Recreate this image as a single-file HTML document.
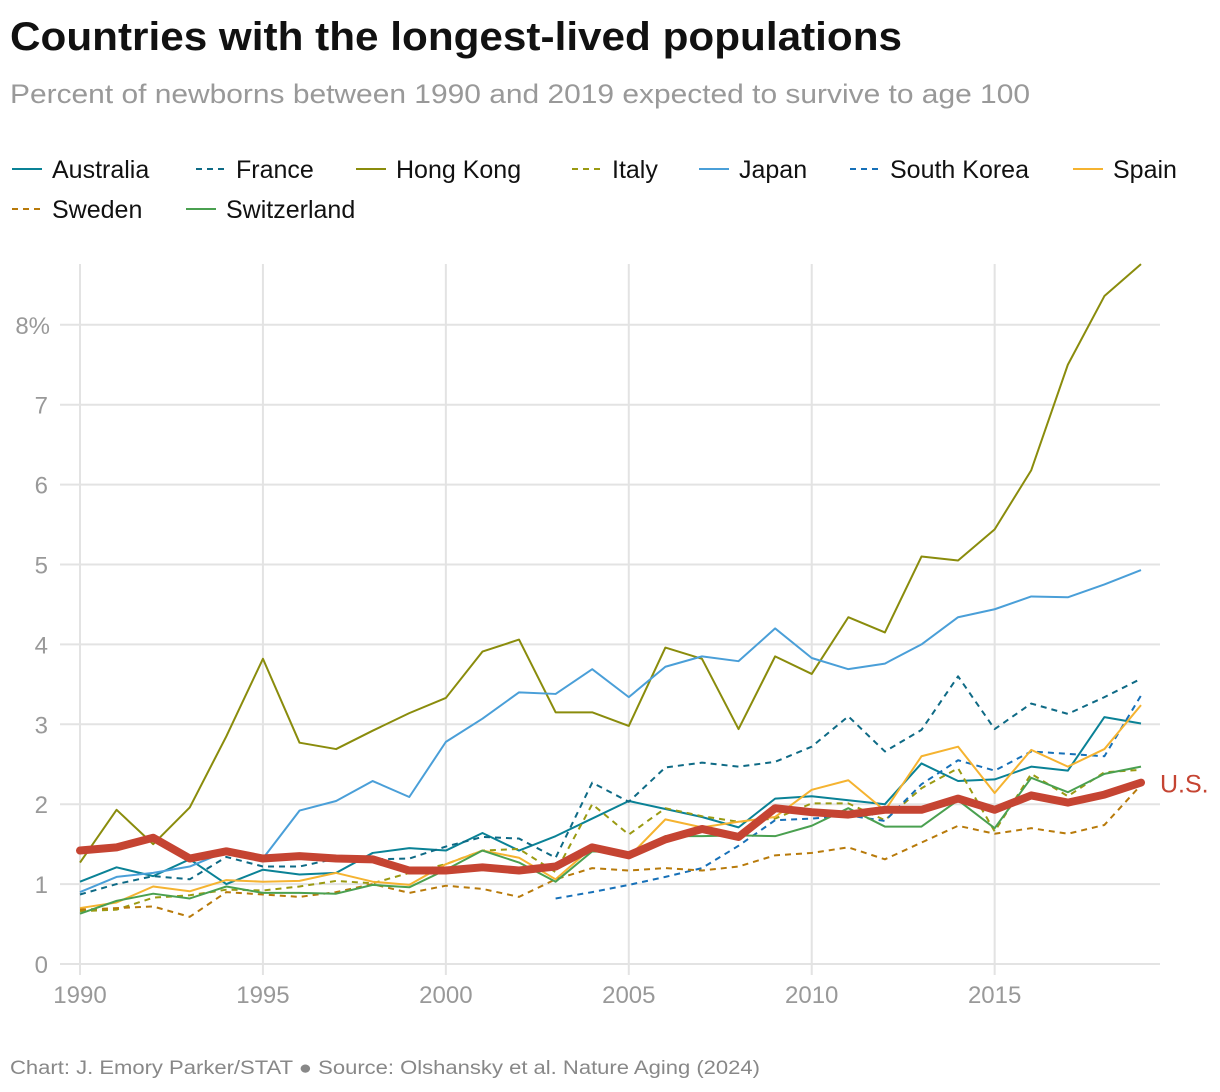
<!DOCTYPE html>
<html><head><meta charset="utf-8"><style>
body{margin:0;background:#fff;font-family:"Liberation Sans",sans-serif;}
svg{display:block}
</style></head><body>
<svg width="1220" height="1092" xmlns="http://www.w3.org/2000/svg">
<text x="10" y="50" font-size="40" font-weight="bold" fill="#111" textLength="892" lengthAdjust="spacingAndGlyphs">Countries with the longest-lived populations</text>
<text x="10" y="103" font-size="27" fill="#999" textLength="1020" lengthAdjust="spacingAndGlyphs">Percent of newborns between 1990 and 2019 expected to survive to age 100</text>
<g id="legend"></g>
<g id="grid"></g>
<g id="series"></g>
<text x="10" y="1074" font-size="19" fill="#888" textLength="750" lengthAdjust="spacingAndGlyphs">Chart: J. Emory Parker/STAT ● Source: Olshansky et al. Nature Aging (2024)</text>
</svg>
<script>
const years=[1990,1991,1992,1993,1994,1995,1996,1997,1998,1999,2000,2001,2002,2003,2004,2005,2006,2007,2008,2009,2010,2011,2012,2013,2014,2015,2016,2017,2018,2019];
const xTicks=[1990,1995,2000,2005,2010,2015];
const yTicks=[0,1,2,3,4,5,6,7,8];
const hongKong=[1.27,1.93,1.5,1.96,2.85,3.82,2.77,2.69,2.92,3.14,3.33,3.91,4.06,3.15,3.15,2.98,3.96,3.82,2.94,3.85,3.63,4.34,4.15,5.1,5.05,5.44,6.18,7.5,8.36,8.76];
const japan=[0.9,1.09,1.14,1.22,1.41,1.32,1.92,2.04,2.29,2.09,2.78,3.07,3.4,3.38,3.69,3.34,3.72,3.85,3.79,4.2,3.83,3.69,3.76,4.0,4.34,4.44,4.6,4.59,4.75,4.93];
const france=[0.87,1.0,1.1,1.06,1.34,1.22,1.22,1.32,1.31,1.32,1.47,1.59,1.57,1.33,2.27,2.03,2.46,2.52,2.47,2.53,2.72,3.1,2.66,2.93,3.6,2.94,3.26,3.13,3.34,3.57];
const australia=[1.03,1.21,1.1,1.31,1.0,1.18,1.12,1.14,1.39,1.45,1.42,1.64,1.42,1.6,1.82,2.04,1.94,1.84,1.71,2.07,2.1,2.05,2.0,2.51,2.29,2.31,2.47,2.42,3.09,3.01];
const italy=[0.66,0.68,0.83,0.86,0.93,0.92,0.97,1.04,1.01,1.14,1.25,1.42,1.44,1.15,2.0,1.62,1.95,1.85,1.78,1.82,2.01,2.01,1.8,2.2,2.45,1.66,2.38,2.1,2.4,2.43];
const sweden=[0.68,0.7,0.72,0.59,0.9,0.87,0.84,0.9,1.0,0.89,0.98,0.94,0.84,1.06,1.2,1.17,1.2,1.17,1.22,1.36,1.39,1.46,1.31,1.52,1.73,1.63,1.7,1.63,1.74,2.24];
const spain=[0.7,0.77,0.97,0.91,1.05,1.03,1.04,1.14,1.03,0.99,1.25,1.42,1.33,1.06,1.46,1.34,1.81,1.71,1.78,1.84,2.18,2.3,1.92,2.6,2.72,2.14,2.68,2.47,2.69,3.24];
const switzerland=[0.63,0.79,0.88,0.82,0.97,0.89,0.89,0.88,0.99,0.96,1.18,1.42,1.27,1.03,1.41,1.39,1.6,1.6,1.61,1.6,1.73,1.95,1.72,1.72,2.05,1.7,2.33,2.15,2.38,2.47];
const southKoreaYears=[2003,2004,2005,2006,2007,2008,2009,2010,2011,2012,2013,2014,2015,2016,2017,2018,2019];
const southKorea=[0.82,0.9,0.99,1.09,1.2,1.48,1.8,1.82,1.86,1.79,2.25,2.55,2.42,2.66,2.63,2.6,3.36];
const us=[1.42,1.46,1.58,1.32,1.41,1.32,1.35,1.32,1.31,1.17,1.17,1.21,1.17,1.22,1.46,1.36,1.56,1.69,1.59,1.95,1.9,1.87,1.93,1.93,2.07,1.93,2.11,2.02,2.12,2.27];

const NS="http://www.w3.org/2000/svg";
const X=y=>80+(y-1990)*(1141-80)/29;
const Y=v=>964-v*79.9;
function mk(t,a,p){const e=document.createElementNS(NS,t);for(const k in a)e.setAttribute(k,a[k]);p.appendChild(e);return e;}
const grid=document.getElementById('grid');
yTicks.forEach(t=>{
  const l=mk('line',{x1:60,x2:1160,y1:Y(t),y2:Y(t),stroke:'#e3e3e3','stroke-width':2},grid);
  
  
  const tx=mk('text',{x:t===8?50:48,y:Y(t)+9,'font-size':24,fill:'#999','text-anchor':'end'},grid);
  tx.textContent=t===8?'8%':String(t);
  
  
});
xTicks.forEach(t=>{
  const l=mk('line',{x1:X(t),x2:X(t),y1:264,y2:975,stroke:'#e3e3e3','stroke-width':2},grid);
  
  
  const tx=mk('text',{x:X(t),y:1003,'font-size':24,fill:'#999','text-anchor':'middle'},grid);
  tx.textContent=String(t);
  
  
});
const series=[
 {n:'Australia',c:'#0a8296',d:null,v:australia,x:years},
 {n:'France',c:'#0e6a85',d:'6 5',v:france,x:years},
 {n:'Hong Kong',c:'#8a8c0c',d:null,v:hongKong,x:years},
 {n:'Italy',c:'#9a9a12',d:'6 5',v:italy,x:years},
 {n:'Japan',c:'#4a9fd8',d:null,v:japan,x:years},
 {n:'South Korea',c:'#1670b8',d:'6 5',v:southKorea,x:southKoreaYears},
 {n:'Spain',c:'#f5b330',d:null,v:spain,x:years},
 {n:'Sweden',c:'#b87a0a',d:'6 5',v:sweden,x:years},
 {n:'Switzerland',c:'#4aa050',d:null,v:switzerland,x:years}
];
const sg=document.getElementById('series');
series.forEach(s=>{
  const pts=s.v.map((v,i)=>X(s.x[i])+','+Y(v)).join(' ');
  const a={points:pts,fill:'none',stroke:s.c,'stroke-width':2,'stroke-linejoin':'round'};
  if(s.d)a['stroke-dasharray']=s.d;
  const p=mk('polyline',a,sg);
  
  
});
const up=mk('polyline',{points:us.map((v,i)=>X(years[i])+','+Y(v)).join(' '),fill:'none',stroke:'#c54432','stroke-width':8,'stroke-linejoin':'round','stroke-linecap':'round'},sg);


const ul=mk('text',{x:1160,y:Y(us[us.length-1])+10,'font-size':25,fill:'#c54432'},sg);
ul.textContent='U.S.';


const lg=document.getElementById('legend');
const pos=[[12,169],[196,169],[356,169],[572,169],[699,169],[850,169],[1073,169],[12,209],[186,209]];
series.forEach((s,i)=>{
  const [x,y]=pos[i];
  const g=mk('g',{},lg);
  
  
  const a={x1:x,x2:x+30,y1:y,y2:y,stroke:s.c,'stroke-width':2};
  if(s.d)a['stroke-dasharray']='6 5';
  mk('line',a,g);
  const t=mk('text',{x:x+40,y:y+9,'font-size':25,fill:'#111','font-weight':'500'},g);
  t.textContent=s.n;
});
</script>
</body></html>
